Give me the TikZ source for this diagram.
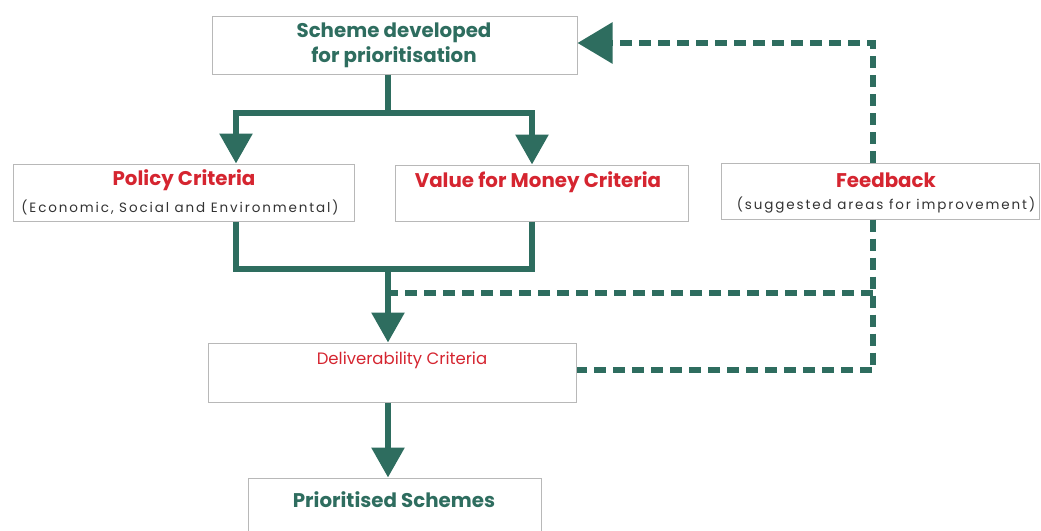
\documentclass[tikz,border=0pt]{standalone}
\usepackage{fontspec}
\setmainfont{Poppins}
\usetikzlibrary{arrows.meta}

\definecolor{flowgreen}{HTML}{2E6D5F}
\definecolor{critred}{HTML}{D52530}
\definecolor{boxgray}{HTML}{B8B8B8}

\tikzset{
  box/.style={draw=boxgray, line width=1pt, rectangle, inner sep=0pt},
  heading/.style={font=\bfseries\fontsize{19.8}{25}\selectfont, align=center, inner sep=0pt},
  subhead/.style={font=\fontsize{13.5}{15}\selectfont\addfontfeatures{LetterSpace=14}, text=black!80, inner sep=0pt},
  flow/.style={draw=flowgreen, line width=6pt},
  flowarrow/.style={flow, -{Triangle[width=32pt,length=30pt]}},
  feed/.style={flow, dash pattern=on 12pt off 7pt}
}

\begin{document}
\begin{tikzpicture}[x=1pt, y=-1pt]
  \useasboundingbox (0,0) rectangle (1041,530);

  % Boxes
  \node[box, minimum width=365pt, minimum height=58pt] (scheme) at (394.5,45) {};
  \node[box, minimum width=341pt, minimum height=57pt] (policy) at (183.5,192.5) {};
  \node[box, minimum width=293pt, minimum height=56pt] (value) at (541.5,193) {};
  \node[box, minimum width=318pt, minimum height=56pt] (feedback) at (880,191) {};
  \node[box, minimum width=368pt, minimum height=59pt] (deliver) at (392,372.5) {};
  \node[box, minimum width=293pt, minimum height=70pt] (prior) at (394.5,513) {};

  % Texts
  \node[heading, text=flowgreen] (schemeT) at (394,45) {Scheme developed\\for prioritisation};
  \node[heading, text=critred] (policyT) at (184,180) {Policy Criteria};
  \node[subhead] (policyS) at (180,207) {(Economic, Social and Environmental)};
  \node[heading, text=critred] (valueT) at (538,182) {Value for Money Criteria};
  \node[heading, text=critred] (feedbackT) at (886,180) {Feedback};
  \node[subhead] (feedbackS) at (886,205) {(suggested areas for improvement)};
  \node[font=\fontsize{16.5}{18}\selectfont, text=critred, inner sep=0pt] (deliverT) at (402,360) {Deliverability Criteria};
  \node[heading, text=flowgreen] (priorT) at (394,500) {Prioritised Schemes};

  % Junction points
  \coordinate (split) at (388,113);
  \coordinate (merge) at (388,269);
  \coordinate (fbtop) at (873,43);
  \coordinate (fbmid) at (873,293);
  \coordinate (fbbot) at (873,370);

  % Solid flow
  \draw[flow] (scheme.south -| split) -- (split);
  \draw[flowarrow] (split) -| (policy.north -| 236,0);
  \draw[flowarrow] (split) -| (value.north -| 532,0);
  \draw[flow] (policy.south -| 236,0) |- (merge);
  \draw[flow] (value.south -| 532,0) |- (merge);
  \draw[flowarrow] (merge) -- (deliver.north -| merge);
  \draw[flowarrow] (deliver.south -| 388,0) -- (prior.north -| 388,0);

  % Feedback loop
  \draw[feed, -{Triangle[width=40pt,length=35pt]}] (feedback.north -| fbtop) -- (fbtop) -- (scheme.east |- fbtop);
  \draw[feed] (feedback.south -| fbbot) -- (fbbot) -- (deliver.east |- fbbot);
  \draw[feed] (fbmid) -- (merge |- fbmid);
\end{tikzpicture}
\end{document}
